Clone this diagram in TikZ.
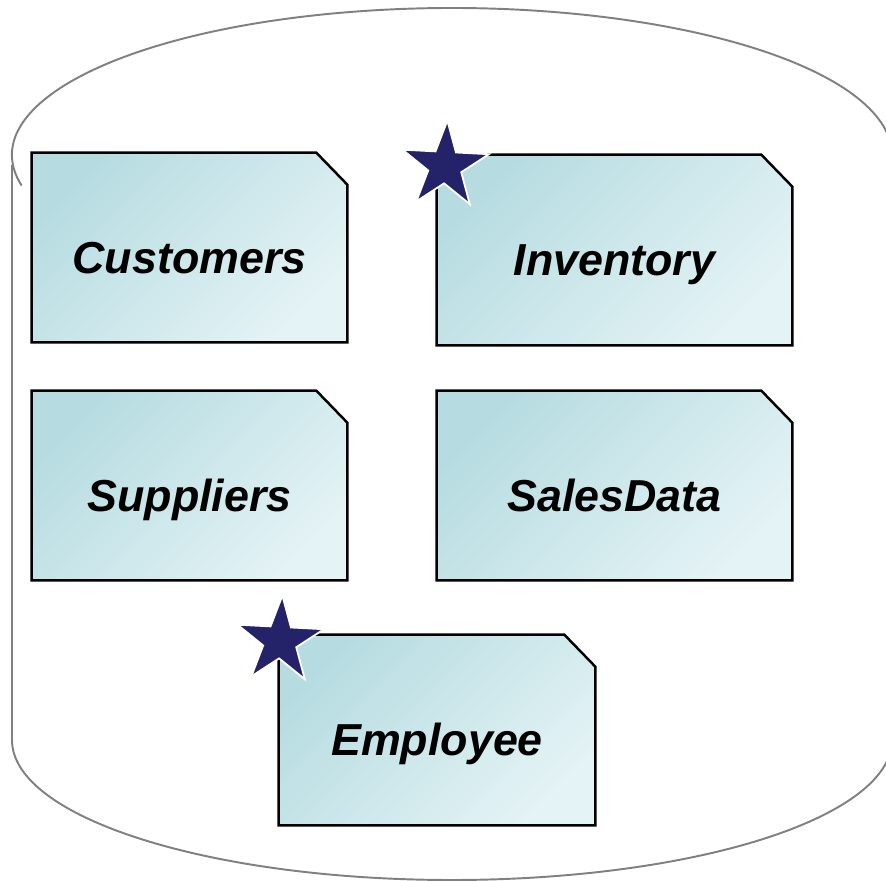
\documentclass[tikz,border=0pt]{standalone}
\usepackage{fontspec}
\setmainfont{Liberation Sans}
\usetikzlibrary{shapes.geometric,backgrounds}

\definecolor{tabletop}{RGB}{182,220,225}
\definecolor{tablebot}{RGB}{228,243,245}
\definecolor{starblue}{RGB}{36,35,105}
\definecolor{dbline}{RGB}{128,128,128}

\tikzset{
	tablebox/.style={rectangle, font=\fontsize{25.5}{30}\selectfont\bfseries\itshape,
		text height=1.04cm, text depth=0pt, inner sep=0pt},
	tableedge/.style={draw=black, line width=1.4pt, top color=tabletop, bottom color=tablebot, shading angle=45},
	keystar/.style={star, star points=5, star point ratio=2.618, minimum size=1.82cm, inner sep=0pt,
		fill=starblue, draw=white, line width=1pt},
}

\begin{document}
\begin{tikzpicture}[x=0.02cm,y=-0.02cm]
	\useasboundingbox (0,0) rectangle (886,881);
	\clip (0,0) rectangle (886,881);
	% database outline
	\draw[dbline, line width=1.1pt] (452,155) ++(168:440 and 147) arc[start angle=168, end angle=365, x radius=440, y radius=147];
	\draw[dbline, line width=1.1pt] (12,165) -- (12,740) arc[start angle=180, end angle=-5, x radius=440, y radius=140];
	% tables
	\node[tablebox, minimum width=6.3cm, minimum height=3.78cm] (customers) at (189.5,247.5) {Customers};
	\node[tablebox, minimum width=7.1cm, minimum height=3.8cm] (inventory) at (614.5,250) {Inventory};
	\node[tablebox, minimum width=6.3cm, minimum height=3.78cm] (suppliers) at (189.5,485.5) {Suppliers};
	\node[tablebox, minimum width=7.1cm, minimum height=3.78cm] (salesdata) at (614.5,485.5) {SalesData};
	\node[tablebox, minimum width=6.32cm, minimum height=3.8cm] (employee) at (437,730) {Employee};
	\begin{scope}[on background layer]
		\foreach \t in {customers,inventory,suppliers,salesdata,employee}
			\path[tableedge] (\t.south west) -- (\t.north west) -- ([xshift=-0.62cm]\t.north east)
				-- ([yshift=-0.64cm]\t.north east) -- (\t.south east) -- cycle;
	\end{scope}
	% key stars
	\node[keystar, rotate=-3] (invstar) at (445,166) {};
	\node[keystar, rotate=-3] (empstar) at (280,641) {};
\end{tikzpicture}
\end{document}
